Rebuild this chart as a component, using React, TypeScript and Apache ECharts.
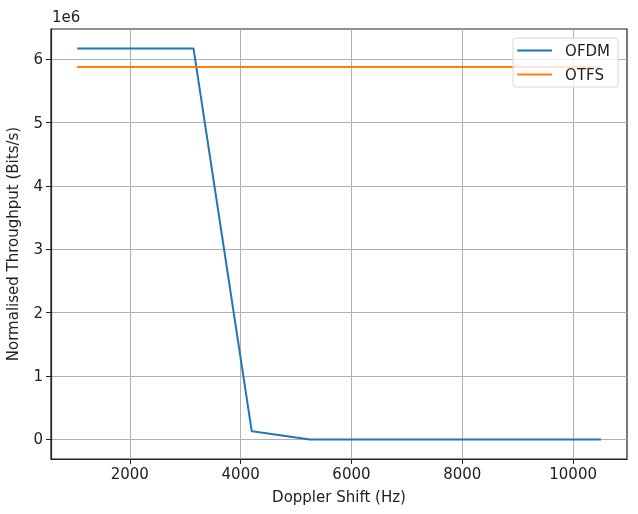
import React, { useEffect, useRef } from "react";
import * as echarts from "echarts";

const dopplerHz = [1050, 2100, 3150, 4200, 5250, 6300, 7350, 8400, 9450, 10500];
const ofdm = [6170000, 6170000, 6170000, 130000, 0, 0, 0, 0, 0, 0];
const otfs = [5880000, 5880000, 5880000, 5880000, 5880000, 5880000, 5880000, 5880000, 5880000, 5880000];
const seriesNames = ["OFDM", "OTFS"];
const colors = ["#1f77b4", "#ff7f0e"];
const xTicks = [2000, 4000, 6000, 8000, 10000];
const yTicks = [0, 1000000, 2000000, 3000000, 4000000, 5000000, 6000000];

const FONT = "DejaVu Sans";
const FS = 15;

export default function App() {
  const ref = useRef<HTMLDivElement>(null);
  useEffect(() => {
    if (!ref.current) return;
    const chart = echarts.init(ref.current, undefined, { renderer: "svg" });
    const xMin = 577.5, xMax = 10972.5;
    const yMin = -308500, yMax = 6478500;
    const axisLine = { show: true, onZero: false, lineStyle: { color: "#222", width: 1.2 } };
    const nameTextStyle = { fontFamily: FONT, fontSize: FS, color: "#222" };
    chart.setOption({
      animation: false,
      grid: {
        left: 51, right: 11, top: 29, bottom: 55, containLabel: false, outerBoundsMode: "none",
        show: true, borderColor: "#222", borderWidth: 1.2,
      },
      xAxis: {
        type: "value",
        min: xMin,
        max: xMax,
        name: "Doppler Shift (Hz)",
        nameLocation: "middle",
        nameGap: 30,
        nameTextStyle,
        axisLine,
        axisTick: { show: true, length: 5, customValues: xTicks, lineStyle: { color: "#222", width: 1 } },
        splitLine: { show: false },
        axisLabel: {
          fontFamily: FONT, fontSize: FS, color: "#222", margin: 7,
          customValues: xTicks,
          formatter: (v: number) => String(v),
        },
      },
      yAxis: {
        type: "value",
        min: yMin,
        max: yMax,
        name: "Normalised Throughput (Bits/s)",
        nameLocation: "middle",
        nameGap: 31,
        nameTextStyle,
        axisLine,
        axisTick: { show: true, length: 5, customValues: yTicks, lineStyle: { color: "#222", width: 1 } },
        splitLine: { show: false },
        axisLabel: {
          fontFamily: FONT, fontSize: FS, color: "#222", margin: 8,
          customValues: yTicks,
          formatter: (v: number) => String(Math.round(v / 1000000)),
        },
      },
      legend: {
        orient: "vertical",
        right: 20,
        top: 38,
        data: seriesNames,
        icon: "rect",
        itemWidth: 35,
        itemHeight: 2,
        itemGap: 9,
        backgroundColor: "rgba(255,255,255,0.8)",
        borderColor: "#d8d8d8",
        borderWidth: 1,
        borderRadius: 3,
        padding: [5, 8, 5, 4],
        textStyle: { fontFamily: FONT, fontSize: FS, color: "#222", padding: [0, 0, 0, 8] },
      },
      graphic: [
        { type: "text", left: 52, top: 9, style: { text: "1e6", fontFamily: FONT, fontSize: FS, fill: "#222" } },
      ],
      series: [
        {
          name: "grid", type: "line", data: [], silent: true, z: 0,
          markLine: {
            silent: true,
            z: 0,
            symbol: "none",
            label: { show: false },
            lineStyle: { color: "#b0b0b0", width: 1, type: "solid" },
            data: [
              ...xTicks.map((v) => ({ xAxis: v })),
              ...yTicks.map((v) => ({ yAxis: v })),
            ],
          },
        },
        {
          name: seriesNames[0], type: "line", showSymbol: false, color: colors[0], z: 3,
          lineStyle: { width: 2, color: colors[0] },
          data: dopplerHz.map((x, i) => [x, ofdm[i]]),
        },
        {
          name: seriesNames[1], type: "line", showSymbol: false, color: colors[1], z: 3,
          lineStyle: { width: 2, color: colors[1] },
          data: dopplerHz.map((x, i) => [x, otfs[i]]),
        },
      ],
    });
    return () => chart.dispose();
  }, []);
  return <div ref={ref} style={{ position: "fixed", left: 0, top: 0, width: 638, height: 514 }} />;
}
